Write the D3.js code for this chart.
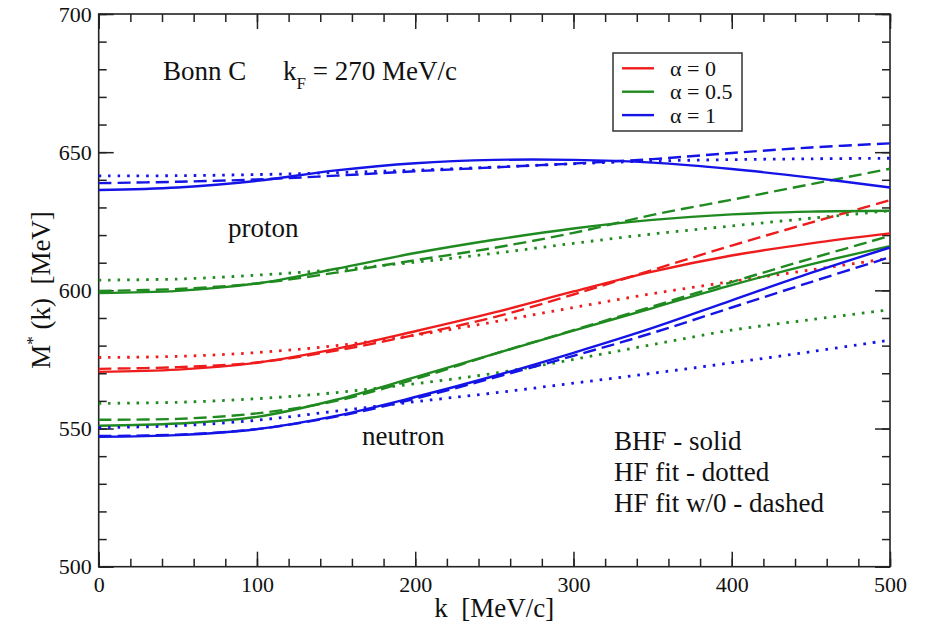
<!DOCTYPE html>
<html>
<head>
<meta charset="utf-8">
<script src="https://cdn.jsdelivr.net/npm/d3@7"></script>
<style>
  body { margin: 0; background: #fff; }
  text { font-family: "Liberation Serif", "Times New Roman", serif; fill: #111; }
</style>
</head>
<body>
<div id="chart-root"></div>
<script>
// momentum grid
const kValues = [0, 50, 100, 150, 200, 250, 300, 350, 400, 450, 500]

// alpha = 0 (proton = neutron)
const sym_bhf   = [570.5, 571.3, 573.8, 578.8, 585.2, 592, 599.6, 606.8, 612.6, 617, 620.6]
const sym_fit   = [575.7, 576.1, 577.5, 580, 583.8, 588.6, 593.8, 598.8, 603.2, 607.4, 611.6]
const sym_fitwo = [571.6, 572.2, 573.9, 578.2, 583.9, 590.3, 598.5, 607.4, 616.2, 624.5, 632.6]

// proton, alpha = 0.5
const p05_bhf   = [599, 599.8, 602.5, 607.8, 613.5, 618.3, 622.4, 625.5, 627.5, 628.5, 628.8]
const p05_fit   = [603.7, 604.1, 605.5, 607.5, 610.2, 613.4, 617, 620.4, 623.3, 626.1, 628.8]
const p05_fitwo = [599.8, 600.5, 602.5, 606.4, 610.9, 615.4, 620.8, 627.3, 632.8, 638.4, 644]

// proton, alpha = 1
const p1_bhf   = [636.3, 637.2, 639.6, 643.4, 646, 647.2, 647.2, 646.2, 643.9, 640.8, 637.2]
const p1_fit   = [641.4, 641.5, 641.9, 642.6, 643.5, 644.6, 645.8, 646.8, 647.3, 647.6, 647.8]
const p1_fitwo = [638.8, 639.3, 640.1, 641.5, 643.1, 644.5, 645.9, 647.5, 649.7, 651.7, 653.2]

// neutron, alpha = 0.5
const n05_bhf   = [551, 551.8, 554.2, 560.4, 568.6, 577, 585.4, 593.6, 601.9, 609.4, 616]
const n05_fit   = [559.1, 559.5, 560.8, 563, 566.2, 570, 575, 580.4, 585.6, 589.4, 593]
const n05_fitwo = [553.2, 553.5, 555.5, 560, 567.9, 577, 585.6, 594.2, 603, 611.5, 619.7]

// neutron, alpha = 1
const n1_bhf   = [547, 547.6, 549.8, 554.6, 561.4, 569, 577.4, 586.4, 596.4, 606.3, 615.5]
const n1_fit   = [550.3, 551, 553, 556.3, 559.7, 562.9, 566.4, 570, 573.8, 577.8, 582]
const n1_fitwo = [547.3, 547.8, 549.8, 554.3, 560.8, 568.4, 576.3, 584.6, 593.8, 603, 612]

const alphaLabels = ["α = 0", "α = 0.5", "α = 1"]
const alphaColors = ["#ee1c1c", "#1f8a1f", "#1414e6"]

const xTicks = [0, 100, 200, 300, 400, 500]
const yTicks = [500, 550, 600, 650, 700]

const dashes = {solid: null, dotted: "2.6,6.9", dashed: "13,6"}

const series = [
  {values: sym_bhf, color: 0, style: "solid"},
  {values: sym_fit, color: 0, style: "dotted"},
  {values: sym_fitwo, color: 0, style: "dashed"},
  {values: p05_bhf, color: 1, style: "solid"},
  {values: p05_fit, color: 1, style: "dotted"},
  {values: p05_fitwo, color: 1, style: "dashed"},
  {values: n05_bhf, color: 1, style: "solid"},
  {values: n05_fit, color: 1, style: "dotted"},
  {values: n05_fitwo, color: 1, style: "dashed"},
  {values: p1_bhf, color: 2, style: "solid"},
  {values: p1_fit, color: 2, style: "dotted"},
  {values: p1_fitwo, color: 2, style: "dashed"},
  {values: n1_bhf, color: 2, style: "solid"},
  {values: n1_fit, color: 2, style: "dotted"},
  {values: n1_fitwo, color: 2, style: "dashed"},
]

const W = 925, H = 622
const margin = {top: 14, right: 35, bottom: 55.3, left: 98.7},
  width = W - margin.left - margin.right,
  height = H - margin.top - margin.bottom

const svg = d3.select("#chart-root")
  .append("svg")
    .attr("width", W)
    .attr("height", H)
  .append("g")
    .attr("transform", "translate(" + margin.left + "," + margin.top + ")")

// Scales
const x = d3.scaleLinear().domain([0, 500]).range([0, width])
const y = d3.scaleLinear().domain([500, 700]).range([height, 0])

const axisColor = "#222"
const styleAxis = g => {
  g.select(".domain").remove()
  g.selectAll("line").attr("stroke", axisColor).attr("stroke-width", 1.5)
  g.selectAll("text")
    .attr("font-size", 22)
    .attr("fill", "#222")
}

// minor ticks, all four sides, pointing inward
const xMinor = d3.range(0, 501, 20)
const yMinor = d3.range(500, 701, 10)

svg.append("g").attr("transform", "translate(0," + height + ")")
  .call(d3.axisBottom(x).tickValues(xMinor).tickSize(-8).tickFormat(""))
  .call(styleAxis)
svg.append("g")
  .call(d3.axisTop(x).tickValues(xMinor).tickSize(-8).tickFormat(""))
  .call(styleAxis)
svg.append("g")
  .call(d3.axisLeft(y).tickValues(yMinor).tickSize(-8).tickFormat(""))
  .call(styleAxis)
svg.append("g").attr("transform", "translate(" + width + ",0)")
  .call(d3.axisRight(y).tickValues(yMinor).tickSize(-8).tickFormat(""))
  .call(styleAxis)

// major ticks + labels
svg.append("g").attr("transform", "translate(0," + height + ")")
  .call(d3.axisBottom(x).tickValues(xTicks).tickSize(-15).tickPadding(10).tickFormat(d3.format("d")))
  .call(styleAxis)
svg.append("g")
  .call(d3.axisTop(x).tickValues(xTicks).tickSize(-15).tickFormat(""))
  .call(styleAxis)
svg.append("g")
  .call(d3.axisLeft(y).tickValues(yTicks).tickSize(-15).tickPadding(7).tickFormat(d3.format("d")))
  .call(styleAxis)
svg.append("g").attr("transform", "translate(" + width + ",0)")
  .call(d3.axisRight(y).tickValues(yTicks).tickSize(-15).tickFormat(""))
  .call(styleAxis)

// frame
svg.append("rect")
  .attr("width", width)
  .attr("height", height)
  .attr("fill", "none")
  .attr("stroke", axisColor)
  .attr("stroke-width", 1.6)

// curves
const line = d3.line()
  .x((d, i) => x(kValues[i]))
  .y(d => y(d))
  .curve(d3.curveCatmullRom.alpha(0.5))

svg.selectAll("path.curve")
  .data(series)
  .enter()
  .append("path")
  .classed("curve", true)
  .attr("fill", "none")
  .attr("stroke", d => alphaColors[d.color])
  .attr("stroke-width", d => d.style === "dotted" ? 2.8 : 2.4)
  .attr("stroke-dasharray", d => dashes[d.style])
  .attr("d", d => line(d.values))

// legend
const legend = svg.append("g")
  .attr("transform", "translate(" + (613 - margin.left) + "," + (53 - margin.top) + ")")

legend.append("rect")
  .attr("width", 129)
  .attr("height", 78)
  .attr("fill", "#fff")
  .attr("stroke", "#333")
  .attr("stroke-width", 1.5)

const legendRows = legend.selectAll("g.row")
  .data(alphaLabels)
  .enter()
  .append("g")
  .classed("row", true)
  .attr("transform", (d, i) => "translate(0," + (15.3 + i * 23.4) + ")")

legendRows.append("line")
  .attr("x1", 9).attr("x2", 41)
  .attr("stroke", (d, i) => alphaColors[i])
  .attr("stroke-width", 2.4)

legendRows.append("text")
  .attr("x", 57)
  .attr("y", 7.5)
  .attr("font-size", 22)
  .text(d => d)

// annotations
const note = (px, py, size) => svg.append("text")
  .attr("x", px - margin.left)
  .attr("y", py - margin.top)
  .attr("font-size", size)

note(163, 80, 27).text("Bonn C")
const kf = note(283, 80, 27)
kf.append("tspan").text("k")
kf.append("tspan").attr("font-size", 17).attr("dy", 9).text("F")
kf.append("tspan").attr("dy", -9).text(" = 270 MeV/c")

note(228, 237, 27).text("proton")
note(362, 445, 27).text("neutron")
note(614, 450, 27).text("BHF - solid")
note(614, 481, 27).text("HF fit - dotted")
note(614, 512, 27).text("HF fit w/0 - dashed")

// axis titles
svg.append("text")
  .attr("x", width / 2)
  .attr("y", 617 - margin.top)
  .attr("text-anchor", "middle")
  .attr("font-size", 27)
  .attr("xml:space", "preserve")
  .text("k  [MeV/c]")

const yTitle = svg.append("text")
  .attr("transform", "translate(" + (50 - margin.left) + "," + (290 - margin.top) + ") rotate(-90)")
  .attr("text-anchor", "middle")
  .attr("font-size", 27)
  .attr("xml:space", "preserve")
yTitle.append("tspan").text("M")
yTitle.append("tspan").attr("font-size", 17).attr("dy", -12).text("*")
yTitle.append("tspan").attr("dy", 12).text(" (k)  [MeV]")
</script>
</body>
</html>
